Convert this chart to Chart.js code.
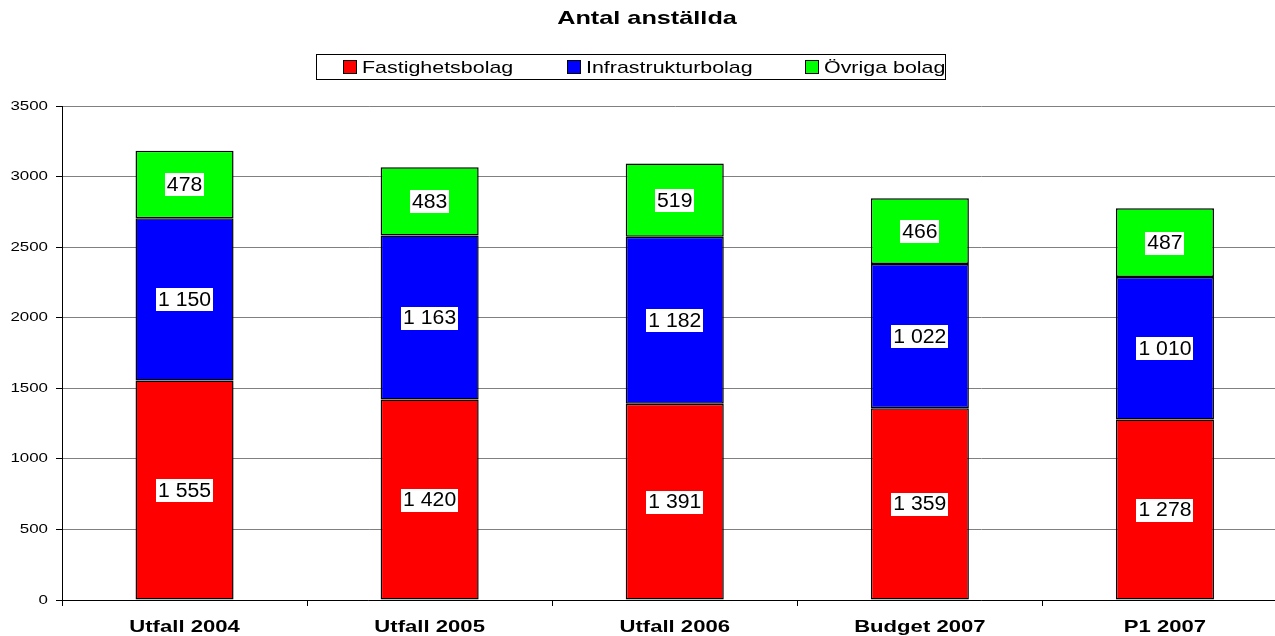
<!DOCTYPE html>
<html>
<head>
<meta charset="utf-8">
<script src="https://cdn.jsdelivr.net/npm/chart.js@4"></script>
<style>
  html, body { margin: 0; padding: 0; background: #fff; overflow: hidden; }
  canvas { display: block; }
</style>
</head>
<body>
<canvas id="chart" width="1290" height="636"></canvas>
<script>
// data
const categories = ['Utfall 2004', 'Utfall 2005', 'Utfall 2006', 'Budget 2007', 'P1 2007'];
const fastighet = [1555, 1420, 1391, 1359, 1278];
const infra = [1150, 1163, 1182, 1022, 1010];
const ovriga = [478, 483, 519, 466, 487];
const seriesNames = ['Fastighetsbolag', 'Infrastrukturbolag', 'Övriga bolag'];
const seriesColors = ['#ff0000', '#0000ff', '#00ff00'];

const FONT = '"Liberation Sans", Arial, sans-serif';
// the original text is a bit wider than plain Arial
const SX = 1.3;

function fmt(v) {
  return String(v).replace(/\B(?=(\d{3})+(?!\d))/g, ' ');
}

function wideText(ctx, txt, x, y, font, align, sx) {
  ctx.save();
  ctx.font = font;
  ctx.textAlign = align;
  ctx.textBaseline = 'middle';
  ctx.translate(x, y);
  ctx.scale(sx, 1);
  ctx.fillText(txt, 0, 0);
  ctx.restore();
}

// white boxed value labels in the middle of each segment
const valueLabels = {
  id: 'valueLabels',
  afterDatasetsDraw(chart) {
    const ctx = chart.ctx;
    const font = '20px ' + FONT;
    const sx = 1.06;
    ctx.save();
    ctx.font = font;
    chart.data.datasets.forEach((ds, i) => {
      chart.getDatasetMeta(i).data.forEach((el, j) => {
        const p = el.getCenterPoint();
        const txt = fmt(ds.data[j]);
        const w = ctx.measureText(txt).width * sx;
        ctx.fillStyle = '#fff';
        ctx.fillRect(Math.round(p.x - w / 2 - 2), Math.round(p.y - 11), Math.round(w + 4), 23);
        ctx.fillStyle = '#000';
        wideText(ctx, txt, p.x, p.y + 1, font, 'center', sx);
      });
    });
    ctx.restore();
  }
};

// title, boxed legend and axis labels
const header = {
  id: 'header',
  afterDraw(chart) {
    const ctx = chart.ctx;
    ctx.save();
    ctx.fillStyle = '#000';
    wideText(ctx, 'Antal anställda', 647, 19, 'bold 19px ' + FONT, 'center', 1.33);

    ctx.fillStyle = '#fff';
    ctx.fillRect(316.5, 54.5, 629, 25);
    ctx.strokeStyle = '#000';
    ctx.lineWidth = 1;
    ctx.strokeRect(316.5, 54.5, 629, 25);

    const xs = [343, 567, 805];
    seriesNames.forEach((name, i) => {
      ctx.fillStyle = seriesColors[i];
      ctx.fillRect(xs[i] + 0.5, 60.5, 13, 13);
      ctx.strokeRect(xs[i] + 0.5, 60.5, 13, 13);
      ctx.fillStyle = '#000';
      wideText(ctx, name, xs[i] + 19, 68, '17px ' + FONT, 'left', 1.26);
    });

    const y = chart.scales.y;
    y.ticks.forEach(t => {
      wideText(ctx, String(t.value), 48, y.getPixelForValue(t.value), '13px ' + FONT, 'right', SX);
    });
    const x = chart.scales.x;
    chart.data.labels.forEach((lab, i) => {
      wideText(ctx, lab, x.getPixelForTick(i), 627, 'bold 17px ' + FONT, 'center', SX);
    });
    ctx.restore();
  }
};

const values = [fastighet, infra, ovriga];

new Chart(document.getElementById('chart'), {
  type: 'bar',
  data: {
    labels: categories,
    datasets: values.map((d, i) => ({
      label: seriesNames[i],
      data: d,
      backgroundColor: seriesColors[i],
      borderColor: '#000',
      borderWidth: 1.5,
      borderSkipped: false,
      barPercentage: 0.4,
      categoryPercentage: 1
    }))
  },
  options: {
    responsive: false,
    animation: false,
    devicePixelRatio: 1,
    layout: { padding: { top: 106, right: 2.5, left: 0, bottom: 0 } },
    plugins: {
      legend: { display: false },
      title: { display: false },
      tooltip: { enabled: false }
    },
    scales: {
      x: {
        stacked: true,
        offset: true,
        grid: {
          offset: true,
          drawOnChartArea: false,
          drawTicks: true,
          tickLength: 6,
          color: '#000'
        },
        border: { color: '#000', width: 1 },
        ticks: { display: false },
        afterFit(scale) { scale.height = 36; }
      },
      y: {
        stacked: true,
        min: 0,
        max: 3500,
        ticks: { stepSize: 500, display: false },
        grid: {
          color: '#808080',
          tickColor: '#000',
          tickLength: 6
        },
        border: { color: '#000', width: 1 },
        afterFit(scale) { scale.width = 62; }
      }
    }
  },
  plugins: [valueLabels, header]
});
</script>
</body>
</html>
